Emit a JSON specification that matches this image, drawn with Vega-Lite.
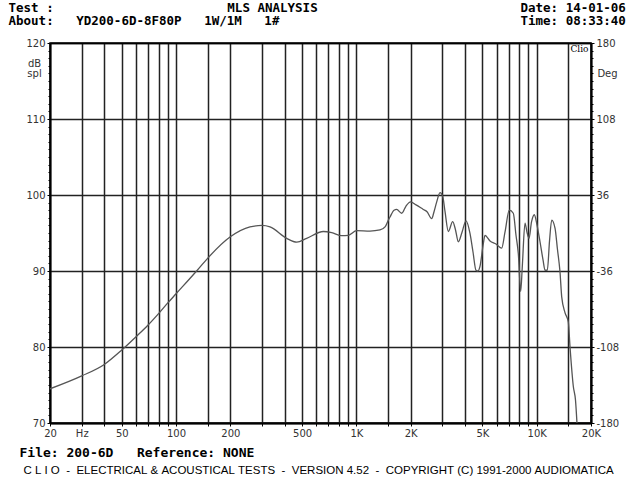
{
  "$schema": "https://vega.github.io/schema/vega-lite/v6.json",
  "autosize": {"type": "none"},
  "width": 541,
  "height": 380,
  "padding": {"left": 50, "top": 43, "right": 49, "bottom": 57},
  "background": "white",
  "config": {"view": {"stroke": "#000", "strokeWidth": 1.5}},
  "data": {"values": [
    {"f": 20, "db": 74.5}, {"f": 30, "db": 76.2}, {"f": 40, "db": 77.7}, {"f": 50, "db": 79.6},
    {"f": 60, "db": 81.35}, {"f": 70, "db": 82.9}, {"f": 80, "db": 84.4}, {"f": 90, "db": 85.8},
    {"f": 100, "db": 87.0}, {"f": 130, "db": 90.0}, {"f": 150, "db": 91.7}, {"f": 200, "db": 94.5},
    {"f": 257, "db": 95.8}, {"f": 300, "db": 96.0}, {"f": 332, "db": 95.8}, {"f": 411, "db": 94.3},
    {"f": 467, "db": 93.8}, {"f": 530, "db": 94.3}, {"f": 656, "db": 95.2}, {"f": 730, "db": 95.05},
    {"f": 829, "db": 94.65}, {"f": 902, "db": 94.7}, {"f": 1004, "db": 95.3}, {"f": 1190, "db": 95.25},
    {"f": 1352, "db": 95.4}, {"f": 1442, "db": 95.8}, {"f": 1504, "db": 96.7}, {"f": 1536, "db": 97.1},
    {"f": 1617, "db": 98.0}, {"f": 1673, "db": 98.1}, {"f": 1784, "db": 97.6}, {"f": 1885, "db": 98.55},
    {"f": 1996, "db": 99.1}, {"f": 2142, "db": 98.7}, {"f": 2350, "db": 98.1}, {"f": 2465, "db": 97.8},
    {"f": 2617, "db": 96.9}, {"f": 2695, "db": 97.8}, {"f": 2789, "db": 99.1}, {"f": 2910, "db": 100.3},
    {"f": 3012, "db": 99.8}, {"f": 3102, "db": 97.8}, {"f": 3235, "db": 95.2}, {"f": 3421, "db": 96.5},
    {"f": 3546, "db": 95.4}, {"f": 3675, "db": 93.85}, {"f": 3853, "db": 95.1}, {"f": 4055, "db": 96.6},
    {"f": 4266, "db": 94.95}, {"f": 4433, "db": 92.5}, {"f": 4605, "db": 90.1}, {"f": 4724, "db": 90.0},
    {"f": 4846, "db": 90.6}, {"f": 5057, "db": 93.6}, {"f": 5168, "db": 94.7}, {"f": 5508, "db": 93.95},
    {"f": 5946, "db": 93.55}, {"f": 6393, "db": 93.0}, {"f": 6668, "db": 95.1}, {"f": 7047, "db": 98.0},
    {"f": 7416, "db": 97.6}, {"f": 7676, "db": 94.7}, {"f": 7905, "db": 92.3}, {"f": 8151, "db": 87.3},
    {"f": 8319, "db": 90.6}, {"f": 8611, "db": 96.3}, {"f": 8834, "db": 95.1}, {"f": 9063, "db": 94.3},
    {"f": 9358, "db": 96.45}, {"f": 9700, "db": 97.4}, {"f": 10040, "db": 96.05}, {"f": 10430, "db": 93.85},
    {"f": 10840, "db": 91.45}, {"f": 11120, "db": 90.1}, {"f": 11450, "db": 90.1}, {"f": 11780, "db": 94.0},
    {"f": 12110, "db": 96.7}, {"f": 12640, "db": 95.6}, {"f": 13040, "db": 92.8}, {"f": 13460, "db": 89.9},
    {"f": 13760, "db": 86.6}, {"f": 14360, "db": 84.5}, {"f": 14970, "db": 83.3}, {"f": 15300, "db": 80.0},
    {"f": 15960, "db": 74.8}, {"f": 16410, "db": 73.0}, {"f": 16720, "db": 70.0}
  ]},
  "resolve": {"axis": {"x": "independent", "y": "independent"}},
  "layer": [
    {
      "mark": {"type": "line", "color": "#555555", "strokeWidth": 1.3, "clip": true, "interpolate": "monotone"},
      "encoding": {
        "x": {"field": "f", "type": "quantitative",
          "scale": {"type": "log", "domain": [20, 20000], "nice": false},
          "axis": {
            "orient": "bottom",
            "values": [20, 30, 40, 50, 60, 70, 80, 90, 100, 150, 200, 300, 400, 500, 600, 700, 800, 900, 1000, 1500, 2000, 3000, 4000, 5000, 6000, 7000, 8000, 9000, 10000, 15000, 20000],
            "labelExpr": "datum.value == 30 ? 'Hz' : indexof([20,50,100,200,500,1000,2000,5000,10000,20000], datum.value) < 0 ? '' : (datum.value >= 1000 ? (datum.value / 1000) + 'K' : '' + datum.value)",
            "grid": true, "gridColor": "#222", "gridWidth": 1.5, "gridOpacity": 1,
            "domain": true, "domainColor": "#000", "domainWidth": 2,
            "ticks": true, "tickSize": 3, "tickColor": "#000",
            "labelFont": "DejaVu Sans", "labelFontSize": 10, "labelColor": "#333", "labelPadding": 2,
            "labelOverlap": false, "labelFlush": false, "labelBound": false,
            "encode": {"labels": {"update": {"dx": {"signal": "datum.value == 30 ? -6 : 0"}}}},
            "title": "File:\u00a0200-6D\u00a0\u00a0\u00a0Reference:\u00a0NONE",
            "titleX": -31, "titleY": 29, "titleAlign": "left", "titleBaseline": "middle",
            "titleFont": "DejaVu Sans Mono", "titleFontSize": 13, "titleFontWeight": "bold", "titleColor": "#000", "titleLimit": 1000
          }
        },
        "y": {"field": "db", "type": "quantitative",
          "scale": {"domain": [70, 120], "nice": false, "zero": false},
          "axis": {
            "orient": "left", "values": [70, 80, 90, 100, 110, 120],
            "grid": true, "gridColor": "#222", "gridWidth": 1.5, "gridOpacity": 1,
            "domain": true, "domainColor": "#000", "domainWidth": 2,
            "ticks": true, "tickSize": 3, "tickColor": "#000",
            "labelFont": "DejaVu Sans", "labelFontSize": 10, "labelColor": "#333", "labelPadding": 2,
            "title": ["dB", "spl"], "titleAngle": 0, "titleX": -16, "titleY": 20,
            "titleAlign": "center", "titleBaseline": "middle", "titleLineHeight": 10,
            "titleFont": "DejaVu Sans", "titleFontSize": 10, "titleFontWeight": "normal", "titleColor": "#333", "titleLimit": 1000
          }
        }
      }
    },
    {
      "mark": {"type": "line", "opacity": 0},
      "encoding": {
        "x": {"field": "f", "type": "quantitative",
          "scale": {"type": "log", "domain": [20, 20000], "nice": false},
          "axis": {
            "orient": "top", "grid": false, "labels": false, "ticks": false,
            "domain": true, "domainColor": "#000", "domainWidth": 1.5,
            "title": "MLS\u00a0ANALYSIS", "titleX": 222, "titleY": -42, "titleAlign": "center", "titleBaseline": "top",
            "titleFont": "DejaVu Sans Mono", "titleFontSize": 12.5, "titleFontWeight": "bold", "titleColor": "#000", "titleLimit": 1000
          }
        },
        "y": {"field": "db", "type": "quantitative",
          "scale": {"domain": [70, 120], "nice": false, "zero": false},
          "axis": {
            "orient": "right", "values": [70, 80, 90, 100, 110, 120],
            "labelExpr": "'' + round((datum.value - 95) * 7.2)",
            "grid": false, "domain": true, "domainColor": "#000", "domainWidth": 2,
            "ticks": true, "tickSize": 3, "tickColor": "#000",
            "labelFont": "DejaVu Sans", "labelFontSize": 10, "labelColor": "#333", "labelPadding": 2,
            "title": "Deg", "titleAngle": 0, "titleX": 16, "titleY": 30, "titleAlign": "center", "titleBaseline": "middle",
            "titleFont": "DejaVu Sans", "titleFontSize": 10, "titleFontWeight": "normal", "titleColor": "#333", "titleLimit": 1000
          }
        }
      }
    },
    {
      "mark": {"type": "line", "opacity": 0},
      "encoding": {
        "x": {"field": "f", "type": "quantitative",
          "scale": {"type": "log", "domain": [20, 20000], "nice": false},
          "axis": {
            "orient": "top", "grid": false, "labels": false, "ticks": false, "domain": false,
            "title": ["Test\u00a0:", "About:\u00a0\u00a0\u00a0YD200-6D-8F80P\u00a0\u00a0\u00a01W/1M\u00a0\u00a0\u00a01#"],
            "titleX": -42, "titleY": -42, "titleAlign": "left", "titleBaseline": "top", "titleLineHeight": 13.5,
            "titleFont": "DejaVu Sans Mono", "titleFontSize": 12.5, "titleFontWeight": "bold", "titleColor": "#000", "titleLimit": 1000
          }
        },
        "y": {"field": "db", "type": "quantitative",
          "scale": {"domain": [70, 120], "nice": false, "zero": false},
          "axis": {
            "orient": "left",
            "values": [71, 72, 73, 74, 75, 76, 77, 78, 79, 81, 82, 83, 84, 85, 86, 87, 88, 89, 91, 92, 93, 94, 95, 96, 97, 98, 99, 101, 102, 103, 104, 105, 106, 107, 108, 109, 111, 112, 113, 114, 115, 116, 117, 118, 119],
            "grid": false, "labels": false, "domain": false,
            "ticks": true, "tickSize": 2, "tickColor": "#000", "tickWidth": 1,
            "title": ["Date:\u00a014-01-06", "Time:\u00a008:33:40"], "titleAngle": 0,
            "titleX": 470, "titleY": -42, "titleAlign": "left", "titleBaseline": "top", "titleLineHeight": 13.5,
            "titleFont": "DejaVu Sans Mono", "titleFontSize": 12.5, "titleFontWeight": "bold", "titleColor": "#000", "titleLimit": 1000
          }
        }
      }
    },
    {
      "mark": {"type": "line", "opacity": 0},
      "encoding": {
        "x": {"field": "f", "type": "quantitative",
          "scale": {"type": "log", "domain": [20, 20000], "nice": false},
          "axis": {
            "orient": "bottom", "grid": false, "labels": false, "ticks": false, "domain": false,
            "title": "C\u00a0L\u00a0I\u00a0O\u00a0\u00a0-\u00a0\u00a0ELECTRICAL\u00a0&\u00a0ACOUSTICAL\u00a0TESTS\u00a0\u00a0-\u00a0\u00a0VERSION\u00a04.52\u00a0\u00a0-\u00a0\u00a0COPYRIGHT\u00a0(C)\u00a01991-2000\u00a0AUDIOMATICA",
            "titleX": 268, "titleY": 47, "titleAlign": "center", "titleBaseline": "middle",
            "titleFont": "Liberation Sans", "titleFontSize": 11.5, "titleFontWeight": "normal", "titleColor": "#000", "titleLimit": 1000
          }
        },
        "y": {"field": "db", "type": "quantitative",
          "scale": {"domain": [70, 120], "nice": false, "zero": false},
          "axis": {
            "orient": "right",
            "values": [71, 72, 73, 74, 75, 76, 77, 78, 79, 81, 82, 83, 84, 85, 86, 87, 88, 89, 91, 92, 93, 94, 95, 96, 97, 98, 99, 101, 102, 103, 104, 105, 106, 107, 108, 109, 111, 112, 113, 114, 115, 116, 117, 118, 119],
            "grid": false, "labels": false, "domain": false,
            "ticks": true, "tickSize": 2, "tickColor": "#000", "tickWidth": 1,
            "title": "Clio", "titleAngle": 0, "titleX": -12, "titleY": 5, "titleAlign": "center", "titleBaseline": "middle",
            "titleFont": "DejaVu Serif", "titleFontSize": 9, "titleFontWeight": "normal", "titleColor": "#000", "titleLimit": 1000
          }
        }
      }
    }
  ]
}
